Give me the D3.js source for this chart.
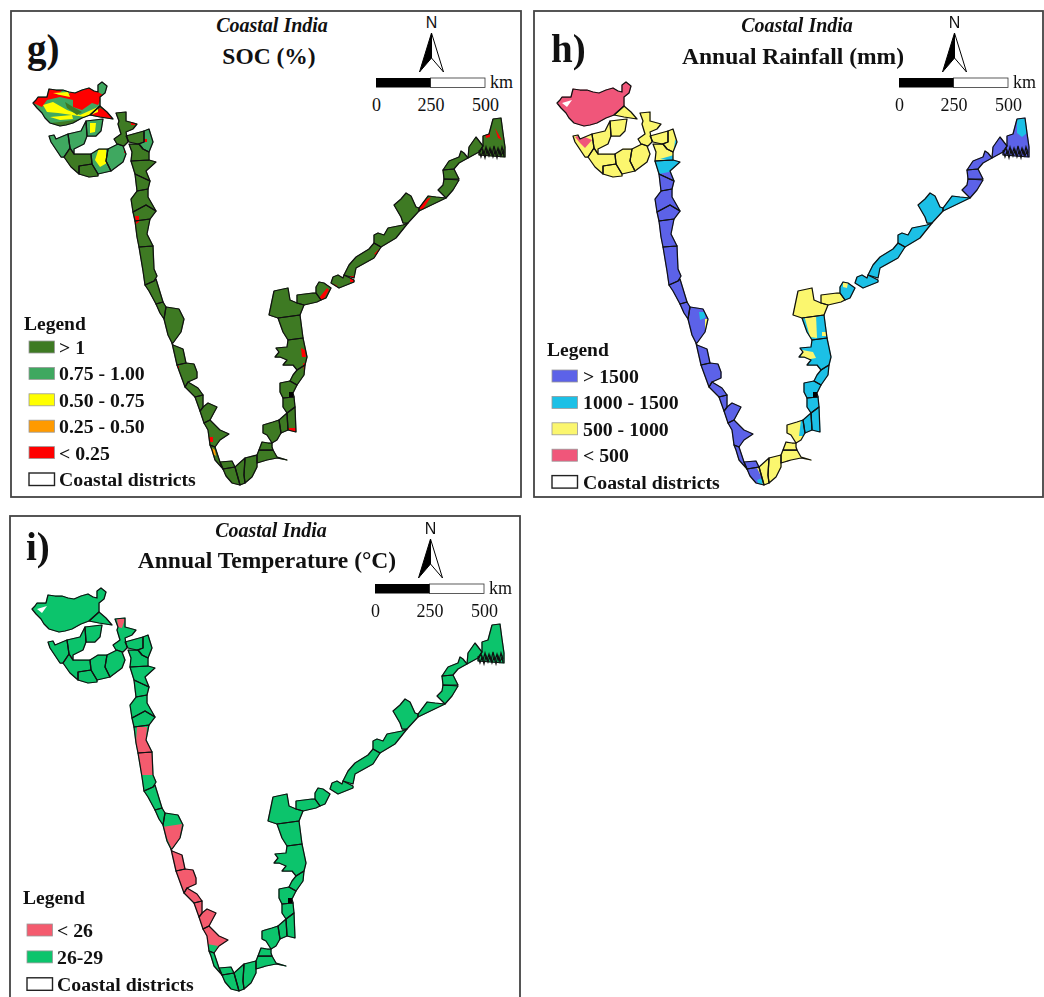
<!DOCTYPE html>
<html>
<head>
<meta charset="UTF-8">
<title>Coastal India</title>
<script src="https://d3js.org/d3.v7.min.js"></script>
<style>
    body { margin: 0; background: #fff; }
    svg { display: block; filter: blur(0.45px); }
    text { font-family: "Liberation Serif", serif; fill: #111; }
</style>
</head>
<body>
<svg id="chart" width="1044" height="997"></svg>
<script>
// district outlines as [easting, northing] map units, west coast first, then east coast going north
var districts = [
    [[33,397],[36,400],[38,403],[47,403],[49,411],[56,410],[63,410],[69,408],[75,407],[82,410],[89,412],[94,409],[98,408],[98,415],[102,418],[107,414],[105,407],[100,403],[100,394],[90,385],[82,382],[73,377],[66,375],[60,374],[50,377],[45,382],[42,387],[37,392]],
    [[100,394],[107,388],[113,381],[100,383],[90,385]],
    [[49,364],[54,365],[56,361],[68,366],[70,352],[64,343],[61,343],[51,358]],
    [[68,366],[81,369],[86,379],[87,364],[84,356],[74,351],[74,346],[70,352]],
    [[86,379],[103,381],[101,369],[96,364],[87,364]],
    [[64,343],[70,352],[74,346],[91,346],[92,336],[79,334],[79,326],[71,333]],
    [[79,334],[92,336],[98,326],[98,324],[89,323],[79,326]],
    [[91,346],[99,351],[108,351],[106,339],[111,329],[98,326],[92,336]],
    [[108,351],[118,356],[123,354],[126,346],[123,338],[111,329],[106,339]],
    [[116,387],[126,388],[126,379],[137,376],[133,371],[126,368],[128,358],[124,354],[117,356],[114,361],[121,366],[118,376],[119,379]],
    [[126,364],[144,369],[144,358],[138,356],[129,358]],
    [[144,369],[149,371],[153,358],[149,348],[143,351],[139,356],[144,358]],
    [[129,356],[139,356],[143,351],[149,348],[149,340],[131,339],[132,348]],
    [[131,339],[149,340],[156,338],[146,329],[150,319],[135,326]],
    [[135,326],[150,319],[148,311],[137,309]],
    [[137,309],[148,311],[148,303],[156,289],[146,295],[133,288],[131,301]],
    [[133,288],[146,295],[156,289],[150,281],[135,279]],
    [[135,279],[150,281],[147,266],[153,254],[139,253],[137,263]],
    [[139,253],[153,254],[154,231],[157,224],[154,219],[145,215],[143,229]],
    [[145,215],[154,219],[156,221],[163,198],[156,196],[149,209]],
    [[156,196],[163,198],[166,193],[164,181],[160,187]],
    [[164,181],[166,193],[179,191],[184,181],[181,168],[173,157],[172,157],[168,165]],
    [[172,157],[173,155],[183,151],[186,137],[177,135]],
    [[177,135],[186,137],[194,136],[197,128],[197,122],[188,118],[185,113]],
    [[185,113],[188,118],[198,112],[203,105],[195,103]],
    [[195,103],[203,105],[203,93],[200,89]],
    [[200,89],[203,93],[208,97],[217,93],[210,80],[204,77]],
    [[204,77],[210,80],[220,70],[229,66],[220,60],[215,53],[210,55],[208,70]],
    [[210,55],[215,53],[220,38],[223,31],[215,40],[212,50]],
    [[220,38],[232,39],[235,33],[223,31]],
    [[223,31],[235,33],[240,15],[232,17],[226,24]],
    [[235,33],[245,42],[244,25],[245,17],[240,15]],
    [[245,42],[257,45],[257,33],[252,23],[245,17],[244,25]],
    [[257,45],[259,50],[273,50],[277,43],[287,40],[277,42],[267,40],[257,37]],
    [[259,50],[262,58],[268,57],[272,57],[272,53],[273,50]],
    [[263,75],[273,78],[279,80],[281,67],[277,60],[272,57],[267,65],[263,67]],
    [[279,80],[287,87],[288,70],[281,67]],
    [[287,87],[295,93],[296,68],[288,70]],
    [[283,102],[294,103],[295,93],[287,87],[283,93]],
    [[280,117],[290,119],[297,115],[293,107],[294,103],[283,102],[280,108]],
    [[290,119],[293,125],[297,130],[305,135],[304,125],[297,115]],
    [[276,152],[287,153],[288,160],[303,162],[307,143],[305,135],[297,130],[293,135],[283,135],[287,140],[280,143],[275,143],[279,148]],
    [[278,182],[300,185],[303,162],[288,160],[283,168]],
    [[274,209],[288,212],[290,200],[297,197],[304,195],[300,185],[278,182],[269,185]],
    [[297,205],[313,207],[316,207],[321,200],[317,198],[304,195],[297,197]],
    [[316,213],[319,218],[324,217],[331,212],[326,202],[321,200],[316,207]],
    [[331,217],[333,223],[338,225],[343,222],[344,225],[354,220],[354,218],[339,212]],
    [[344,225],[349,235],[356,243],[369,251],[374,257],[381,253],[374,242],[356,232],[354,222]],
    [[374,257],[374,265],[378,267],[384,265],[388,272],[403,275],[408,277],[396,262],[381,253]],
    [[394,295],[401,301],[406,307],[411,304],[416,293],[419,292],[419,289],[408,277],[403,277],[401,283]],
    [[419,292],[428,304],[436,303],[446,302],[419,289]],
    [[438,310],[443,315],[444,321],[459,320],[453,310],[446,302]],
    [[444,321],[443,330],[454,331],[459,321]],
    [[443,330],[449,339],[459,343],[461,349],[464,347],[468,342],[459,337],[454,331]],
    [[468,342],[469,353],[476,363],[483,354],[479,348]],
    [[483,354],[483,364],[489,366],[493,381],[501,382],[503,367],[505,353],[505,343],[479,345],[479,348]]
];

// class of each district, same order as districts, index into the panel's legend
var socClass = [1,0,1,1,1,0,0,1,1,0,0,1,0, 0,0,0,0,0,0,0,0,0,0,0,0,0,0,0,0, 0,0,0,0,0,0,0,0,0,0,0,0,0,0,0,0,0,0,0,0,0,0,0,0,0,0,0];
var rainClass = [3,2,2,2,2,2,2,2,2,2,2,2,2, 1,0,0,0,0,0,0,0,0,0,0,0,0,0,0,0, 0,0,2,2,2,2,2,1,1,1,1,1,1,1,2,2,1,1,1,1,1,1,0,0,0,0,0];
var tempClass = [1,1,1,1,1,1,1,1,1,1,1,1,1, 1,1,1,1,1,1,1,1,1,0,0,0,0,0,0,1, 1,1,1,1,1,1,1,1,1,1,1,1,1,1,1,1,1,1,1,1,1,1,1,1,1,1,1];

// areas that differ from the district class: [class, outline]
var socPatches = [
    [4, [[33,397],[38,403],[47,403],[49,411],[63,410],[57,405],[68,405],[72,409],[75,407],[89,412],[98,408],[103,405],[98,395],[92,397],[82,390],[73,393],[73,400],[60,403],[47,400],[42,393]]],
    [4, [[92,385],[100,392],[110,387],[113,381],[100,383]]],
    [2, [[43,395],[53,398],[67,390],[80,385],[98,393],[98,388],[85,383],[72,385],[58,387],[47,388]]],
    [2, [[53,407],[68,408],[70,403],[60,405]]],
    [2, [[50,383],[72,385],[73,381],[60,380]]],
    [0, [[65,398],[73,393],[82,388],[77,385],[67,392]]],
    [0, [[50,377],[60,374],[73,377],[82,382],[75,380],[60,378]]],
    [2, [[90,377],[96,377],[95,368],[90,367]]],
    [2, [[99,352],[106,351],[107,337],[100,333],[95,340]]],
    [4, [[131,379],[135,379],[135,375],[131,375]]],
    [4, [[124,353],[128,353],[128,347],[124,347]]],
    [4, [[135,284],[139,284],[139,278],[136,276]]],
    [4, [[144,361],[147,361],[147,358],[144,358]]],
    [4, [[176,134],[179,134],[179,129],[176,129]]],
    [4, [[209,63],[213,63],[213,58],[209,58]]],
    [3, [[212,52],[215,50],[216,44],[213,46]]],
    [4, [[301,152],[305,150],[306,143],[302,143]]],
    [4, [[303,137],[307,136],[306,129],[304,129]]],
    [4, [[287,72],[296,72],[296,68],[290,69]]],
    [4, [[319,202],[327,212],[329,210],[322,198]]],
    [4, [[331,216],[337,215],[336,213],[331,213]]],
    [4, [[350,224],[354,224],[354,218],[350,218]]],
    [4, [[374,246],[379,251],[377,245]]],
    [4, [[418,291],[427,301],[431,303],[423,291]]],
    [4, [[485,367],[490,367],[490,363],[486,362]]],
    [4, [[495,372],[499,365],[502,360],[498,362]]]
];
var rainPatches = [
    [2, [[92,385],[100,392],[100,383]]],
    [3, [[51,363],[56,365],[68,360],[61,352],[56,357]]],
    [1, [[151,360],[156,357],[155,350],[150,350]]],
    [1, [[136,341],[150,345],[150,339]]],
    [0, [[135,326],[150,329],[151,318]]],
    [1, [[175,188],[181,188],[181,182],[176,180]]],
    [2, [[181,181],[185,181],[185,170],[181,169]]],
    [2, [[233,32],[236,33],[243,15],[238,12],[238,22]]],
    [1, [[233,20],[238,22],[239,13],[234,17]]],
    [1, [[277,80],[281,80],[281,64],[275,64],[276,72]]],
    [2, [[278,150],[289,148],[292,142],[281,140],[277,143]]],
    [2, [[280,185],[292,185],[293,162],[286,163]]],
    [2, [[298,168],[303,168],[303,164],[298,164]]],
    [2, [[319,218],[324,217],[323,212],[319,213]]],
    [2, [[374,242],[383,255],[381,250],[377,242]]],
    [0, [[438,310],[446,307],[444,302]]],
    [1, [[493,385],[501,385],[503,367],[498,363],[493,367]]]
];
var tempPatches = [
    [0, [[118,387],[126,387],[123,378],[119,379]]],
    [0, [[138,279],[148,279],[147,266],[153,254],[154,231],[143,231],[139,253],[137,263]]],
    [0, [[163,179],[183,182],[181,168],[173,157],[170,163]]],
    [1, [[208,62],[219,60],[215,53],[210,55]]]
];
var saltFlats = [[38,397],[48,400],[43,393]];
var blackPatch = [[289,108],[293,108],[293,103],[289,103]];
var deltaFringe = [
    [[479,350],[481,343],[483,349],[485,342],[487,350],[489,344],[491,350],[493,343],[495,349],[497,342],[499,350],[501,344],[503,349],[504,343]],
    [[480,348],[482,352],[484,346],[486,353],[488,346],[490,352],[492,345],[494,354],[496,346],[498,352],[500,345],[502,353],[504,347]]
];

var socLabels = ["> 1", "0.75 - 1.00", "0.50 - 0.75", "0.25 - 0.50", "< 0.25"];
var socColors = ["#3e7a23", "#3fa860", "#ffff00", "#ff9a00", "#ff0000"];
var rainLabels = ["> 1500", "1000 - 1500", "500 - 1000", "< 500"];
var rainColors = ["#5c62e8", "#1cc0e6", "#fbf66e", "#f0567a"];
var tempLabels = ["< 26", "26-29"];
var tempColors = ["#f45b6e", "#0cc46c"];
var kmTicks = [0, 250, 500];

var panels = [
    {id: "g", letter: "g)", letterX: 27, letterY: 62, title: "SOC (%)", titleX: 269, titleY: 64, subX: 272, subY: 32,
     box: [11, 11, 510, 486], mapDx: 0, mapDy: 0, barX: 376, barY: 78, classes: socClass, patches: socPatches,
     labels: socLabels, colors: socColors, legX: 24, legY: 330, swX: 29, rowX: 59, rowY: 341, rowStep: 26.4},
    {id: "h", letter: "h)", letterX: 551, letterY: 62, title: "Annual Rainfall (mm)", titleX: 793, titleY: 64, subX: 797, subY: 32,
     box: [534, 11, 509, 486], mapDx: 524, mapDy: 0, barX: 899, barY: 78, classes: rainClass, patches: rainPatches,
     labels: rainLabels, colors: rainColors, legX: 547, legY: 356, swX: 552, rowX: 583, rowY: 370, rowStep: 26.4},
    {id: "i", letter: "i)", letterX: 26, letterY: 560, title: "Annual Temperature (°C)", titleX: 267, titleY: 568, subX: 271, subY: 537,
     box: [10, 516, 510, 500], mapDx: -1, mapDy: 506, barX: 375, barY: 584, classes: tempClass, patches: tempPatches,
     labels: tempLabels, colors: tempColors, legX: 23, legY: 904, swX: 27, rowX: 57, rowY: 924, rowStep: 26.9}
];

var svg = d3.select("#chart");
var km = d3.scaleLinear().domain([0, 500]).range([0, 109]);

panels.forEach(function (p) {
    var x = d3.scaleLinear().domain([0, 500]).range([p.mapDx, 500 + p.mapDx]);
    var y = d3.scaleLinear().domain([0, 500]).range([500 + p.mapDy, p.mapDy]);
    var ring = d3.line().x(function (d) { return x(d[0]); }).y(function (d) { return y(d[1]); });
    var closed = function (pts) { return ring(pts) + "Z"; };
    var g = svg.append("g");

    g.append("rect").attr("x", p.box[0]).attr("y", p.box[1]).attr("width", p.box[2]).attr("height", p.box[3])
        .attr("fill", "#fff").attr("stroke", "#444").attr("stroke-width", 1.8);

    g.append("text").attr("x", p.letterX).attr("y", p.letterY).attr("font-size", 39).attr("font-weight", "bold").text(p.letter);
    g.append("text").attr("x", p.subX).attr("y", p.subY).attr("text-anchor", "middle").attr("font-size", 20)
        .attr("font-weight", "bold").attr("font-style", "italic").text("Coastal India");
    g.append("text").attr("x", p.titleX).attr("y", p.titleY).attr("text-anchor", "middle").attr("font-size", 23.5)
        .attr("font-weight", "bold").text(p.title);

    // map
    g.append("clipPath").attr("id", "clip-" + p.id).selectAll("path").data(districts).enter().append("path").attr("d", closed);
    g.selectAll("path.fill").data(districts).enter().append("path").attr("class", "fill")
        .attr("d", closed)
        .attr("fill", function (d, i) { return p.colors[p.classes[i]]; })
        .attr("stroke", function (d, i) { return p.colors[p.classes[i]]; }).attr("stroke-width", 0.8);
    g.append("g").attr("clip-path", "url(#clip-" + p.id + ")").selectAll("path").data(p.patches).enter().append("path")
        .attr("d", function (d) { return closed(d[1]); })
        .attr("fill", function (d) { return p.colors[d[0]]; });
    if (p.id !== "g") {
        g.append("path").attr("d", closed(saltFlats)).attr("fill", "#fff");
    }
    g.selectAll("path.line").data(districts).enter().append("path").attr("class", "line")
        .attr("d", closed).attr("fill", "none").attr("stroke", "#111").attr("stroke-width", 1.25).attr("stroke-linejoin", "round");
    g.append("path").attr("d", closed(blackPatch)).attr("fill", "#000");
    g.selectAll("path.fringe").data(deltaFringe).enter().append("path").attr("class", "fringe")
        .attr("d", ring).attr("fill", "none").attr("stroke", "#111").attr("stroke-width", 1.2);

    // north arrow
    var north = g.append("g").attr("transform", "translate(" + (p.barX + 55.5) + "," + p.barY + ")");
    north.append("text").attr("y", -50).attr("text-anchor", "middle").attr("font-size", 16)
        .style("font-family", "'Liberation Sans', sans-serif").text("N");
    north.append("path").attr("d", "M0,-45L-12,-6L0,-20Z").attr("fill", "#000").attr("stroke", "#000");
    north.append("path").attr("d", "M0,-45L12,-6L0,-20Z").attr("fill", "#fff").attr("stroke", "#000");

    // scale bar
    var bar = g.append("g").attr("transform", "translate(" + p.barX + "," + p.barY + ")");
    bar.append("rect").attr("x", km(250)).attr("width", km(500) - km(250)).attr("height", 9.5)
        .attr("fill", "#fff").attr("stroke", "#333").attr("stroke-width", 0.8);
    bar.append("rect").attr("x", km(0)).attr("width", km(250) - km(0)).attr("height", 9.5).attr("fill", "#000");
    bar.append("text").attr("x", km(500) + 5).attr("y", 9.5).attr("font-size", 18).text("km");
    var axis = bar.append("g").attr("transform", "translate(0,18)")
        .call(d3.axisBottom(km).tickValues(kmTicks).tickSize(0).tickPadding(2).tickFormat(d3.format("d")));
    axis.select(".domain").remove();
    axis.selectAll("text").attr("font-size", 18).style("font-family", "'Liberation Serif', serif").attr("fill", "#111");

    // legend
    var rowY = d3.scaleLinear().domain([0, 1]).range([p.rowY, p.rowY + p.rowStep]);
    g.append("text").attr("x", p.legX).attr("y", p.legY).attr("font-size", 19.5).attr("font-weight", "bold").text("Legend");
    p.labels.forEach(function (label, i) {
        g.append("rect").attr("x", p.swX).attr("y", rowY(i)).attr("width", 25.5).attr("height", 12)
            .attr("fill", p.colors[i]).attr("stroke", "#999").attr("stroke-width", 0.8);
        g.append("text").attr("x", p.rowX).attr("y", rowY(i) + 13).attr("font-size", 19.8).attr("font-weight", "bold").text(label);
    });
    var last = p.labels.length;
    g.append("rect").attr("x", p.swX).attr("y", rowY(last)).attr("width", 25.5).attr("height", 12.5)
        .attr("fill", "#fff").attr("stroke", "#222").attr("stroke-width", 1.4);
    g.append("text").attr("x", p.rowX).attr("y", rowY(last) + 13).attr("font-size", 19.8).attr("font-weight", "bold").text("Coastal districts");
});
</script>
</body>
</html>
